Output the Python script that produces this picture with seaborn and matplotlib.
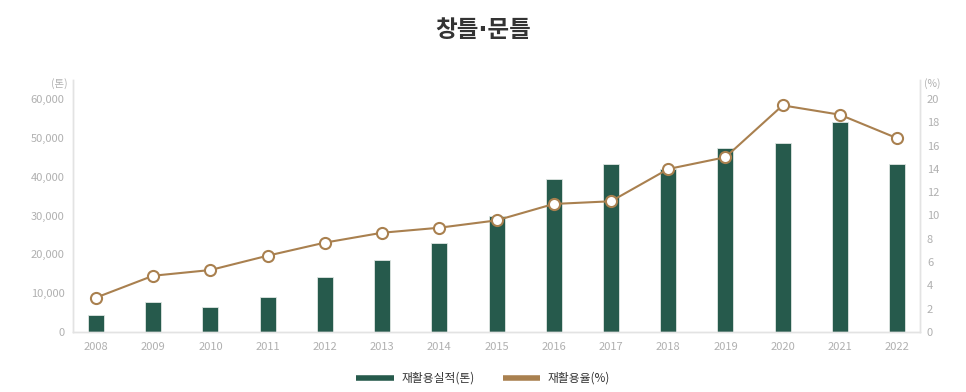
import numpy as np
import pandas as pd
import seaborn as sns
import matplotlib.pyplot as plt
from matplotlib.lines import Line2D

years = ['2008', '2009', '2010', '2011', '2012', '2013', '2014', '2015',
         '2016', '2017', '2018', '2019', '2020', '2021', '2022']
recycled_tons = [4400, 7700, 6400, 9000, 14200, 18500, 22900, 29900,
                 39400, 43300, 42000, 47400, 48700, 54100, 43300]
recycle_rate = [2.95, 4.83, 5.32, 6.55, 7.67, 8.52, 8.95, 9.58,
                10.99, 11.22, 13.99, 15.0, 19.45, 18.65, 16.63]
left_ticks = [0, 10000, 20000, 30000, 40000, 50000, 60000]
right_ticks = [0, 2, 4, 6, 8, 10, 12, 14, 16, 18, 20]

bar_color = '#265a4c'
line_color = '#a9804f'
tick_color = '#b0b0b0'
spine_color = '#e3e3e3'

sns.set_theme(style='white')
plt.rcParams['font.family'] = ['Noto Sans CJK KR', 'DejaVu Sans']

df = pd.DataFrame({'year': years, 'tons': recycled_tons, 'rate': recycle_rate})
pos = np.arange(len(years))

fig = plt.figure(figsize=(9.66, 3.92), dpi=100)
ax = fig.add_axes([0.0756, 0.153, 0.8768, 0.643])

sns.barplot(data=df, x='year', y='tons', color=bar_color, width=0.28,
            saturation=1, edgecolor='#dfe6e3', linewidth=0.6, ax=ax)
ax.set_xlim(-0.4, len(years) - 0.6)
ax.set_ylim(0, 64900)
ax.set_yticks(left_ticks)
ax.set_yticklabels([f'{v:,}' for v in left_ticks])
ax.set_xlabel('')
ax.set_ylabel('')

ax2 = ax.twinx()
sns.lineplot(x=pos, y=df['rate'], color=line_color, linewidth=1.5,
             marker='o', markersize=8, markerfacecolor='white',
             markeredgecolor=line_color, markeredgewidth=1.5, ax=ax2)
ax2.set_ylim(0, 21.63)
ax2.set_yticks(right_ticks)
ax2.set_ylabel('')

for a in (ax, ax2):
    a.tick_params(axis='both', length=0, labelsize=8, colors=tick_color)
    a.grid(False)
    a.spines['top'].set_visible(False)
    for s in ('left', 'right', 'bottom'):
        a.spines[s].set_color(spine_color)
        a.spines[s].set_linewidth(1)
ax.tick_params(axis='y', pad=6)
ax.tick_params(axis='x', pad=7)
ax2.tick_params(axis='y', pad=5)

# unit labels above each axis
fig.text(0.0695, 0.774, '(톤)', ha='right', va='bottom', fontsize=7.5, color=tick_color)
fig.text(0.957, 0.774, '(%)', ha='left', va='bottom', fontsize=7.5, color=tick_color)

fig.suptitle('창틀·문틀', x=0.5, y=0.955, fontsize=17, fontweight='bold', color='#333333',
             family=['DejaVu Sans', 'Noto Sans CJK KR'])

handles = [Line2D([], [], color=bar_color, linewidth=4, solid_capstyle='butt'),
           Line2D([], [], color=line_color, linewidth=4, solid_capstyle='butt')]
fig.legend(handles, ['재활용실적(톤)', '재활용율(%)'], loc='center',
           bbox_to_anchor=(0.5, 0.035), ncol=2, frameon=False, fontsize=8.5,
           handlelength=3.2, handletextpad=0.6, columnspacing=2.4,
           labelcolor='#333333')

fig.savefig('out.png', dpi=100)
